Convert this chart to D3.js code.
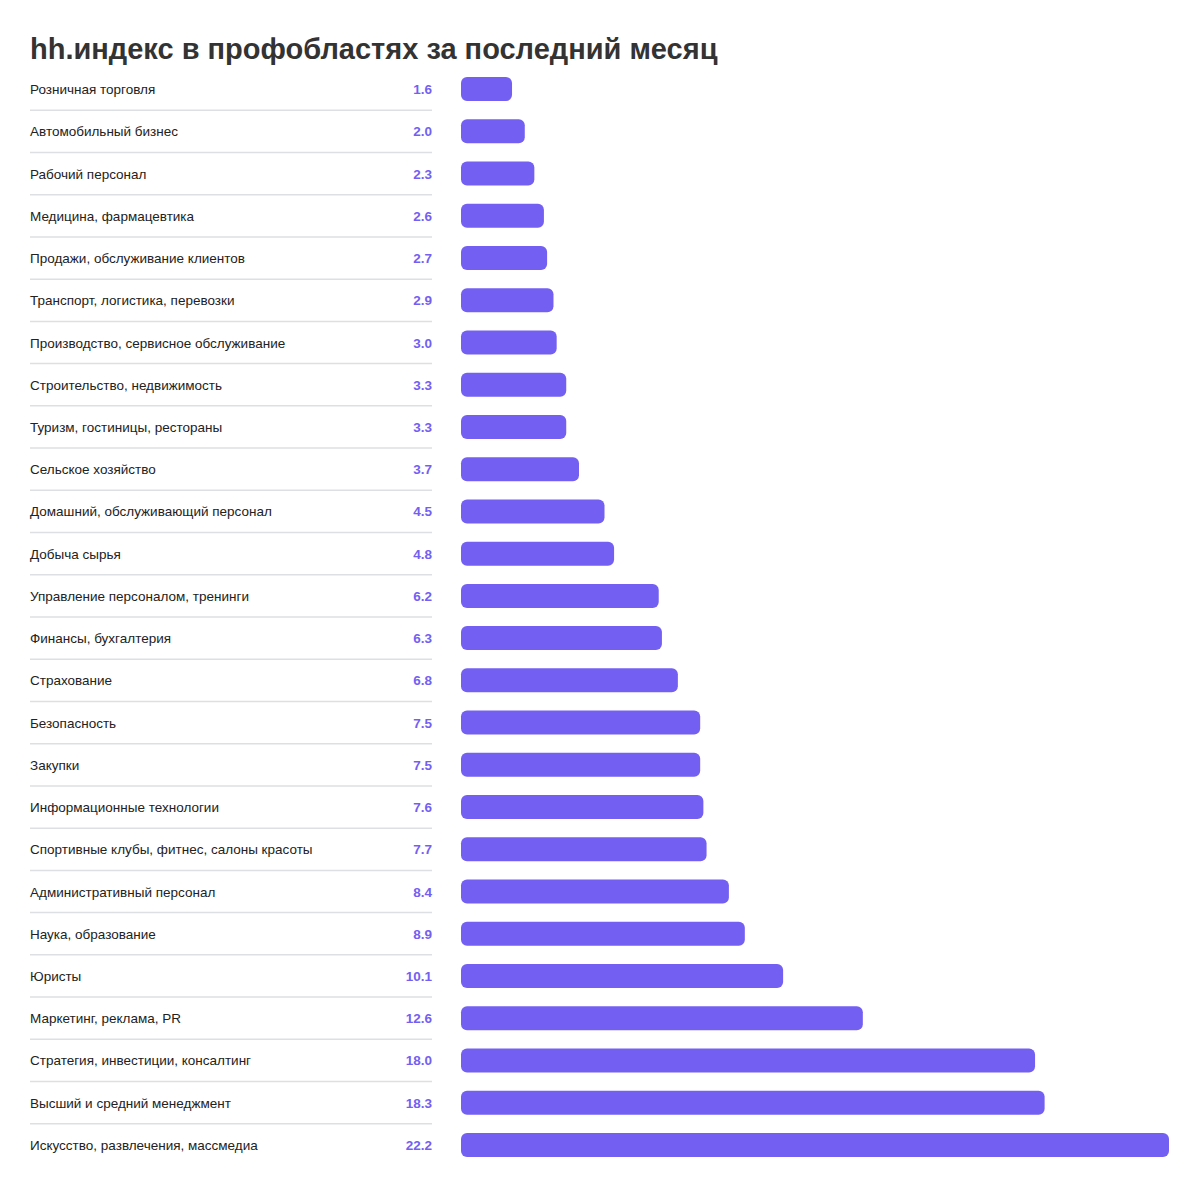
<!DOCTYPE html><html><head><meta charset="utf-8"><script src="https://cdn.jsdelivr.net/npm/d3@7"></script>
<style>body{margin:0;background:#fff}</style></head><body><svg id="c" width="1200" height="1188"></svg><script>
const categories=["Розничная торговля","Автомобильный бизнес","Рабочий персонал","Медицина, фармацевтика","Продажи, обслуживание клиентов","Транспорт, логистика, перевозки","Производство, сервисное обслуживание","Строительство, недвижимость","Туризм, гостиницы, рестораны","Сельское хозяйство","Домашний, обслуживающий персонал","Добыча сырья","Управление персоналом, тренинги","Финансы, бухгалтерия","Страхование","Безопасность","Закупки","Информационные технологии","Спортивные клубы, фитнес, салоны красоты","Административный персонал","Наука, образование","Юристы","Маркетинг, реклама, PR","Стратегия, инвестиции, консалтинг","Высший и средний менеджмент","Искусство, развлечения, массмедиа"];
const values=[1.6,2.0,2.3,2.6,2.7,2.9,3.0,3.3,3.3,3.7,4.5,4.8,6.2,6.3,6.8,7.5,7.5,7.6,7.7,8.4,8.9,10.1,12.6,18.0,18.3,22.2];
const title="hh.индекс в профобластях за последний месяц";
const svg=d3.select("#c"),F="Liberation Sans, Arial, sans-serif",C="#7360f2";
svg.append("text").attr("x",30).attr("y",59).attr("font-family",F).attr("font-weight","bold").attr("font-size",29).attr("fill","#333").text(title);
const y=d3.scaleBand().domain(categories).range([68,1166]).paddingInner(0);
const x=d3.scaleLinear().domain([0,22.2]).range([461,1169]);
const g=svg.selectAll("g.r").data(categories).enter().append("g");
g.append("rect").attr("x",x(0)).attr("y",d=>y(d)+y.bandwidth()/2-12).attr("height",24)
 .attr("width",(d,i)=>x(values[i])-x(0)).attr("rx",6).attr("fill",C);
g.append("text").attr("x",30).attr("y",d=>y(d)+y.bandwidth()/2+5).attr("font-family",F).attr("font-size",13.5).attr("fill","#222").text(d=>d);
g.append("text").attr("x",432).attr("text-anchor","end").attr("y",d=>y(d)+y.bandwidth()/2+5).attr("font-family",F).attr("font-weight","bold").attr("font-size",13.5).attr("fill",C).text((d,i)=>values[i].toFixed(1));
g.filter((d,i)=>i<categories.length-1).append("line").attr("x1",30).attr("x2",432).attr("y1",d=>y(d)+y.bandwidth()).attr("y2",d=>y(d)+y.bandwidth()).attr("stroke","#dde0e2").attr("stroke-width",1.5);
</script></body></html>
